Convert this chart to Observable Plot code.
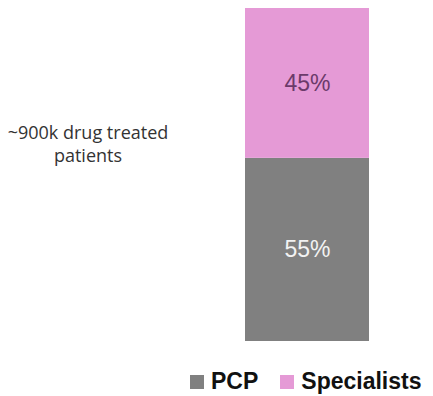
<!DOCTYPE html>
<html>
<head>
<meta charset="utf-8">
<script src="https://cdn.jsdelivr.net/npm/d3@7"></script>
<script src="https://cdn.jsdelivr.net/npm/@observablehq/plot@0.6"></script>
<style>
  html, body { margin: 0; padding: 0; background: #fff; }
  #wrap { position: relative; width: 433px; height: 396px; overflow: hidden; }
  #label { position: absolute; left: 0; top: 121px; width: 176px; text-align: center;
    font-family: "Open Sans", sans-serif; font-size: 18px; line-height: 23px; color: #333; }
  #legend { position: absolute; left: 190px; top: 368px; display: flex; align-items: center;
    font-family: "Liberation Sans", Arial, sans-serif; font-weight: bold; font-size: 23px; color: #111; }
  .sw { width: 14px; height: 14px; display: inline-block; margin-right: 7px; }
  .item { display: flex; align-items: center; margin-right: 22px; }
</style>
</head>
<body>
<div id="wrap">
  <div id="chart"></div>
  <div id="label">~900k drug treated<br>patients</div>
  <div id="legend"></div>
</div>
<script>
const groups = ["~900k drug treated patients"];
const segments = ["PCP", "Specialists"];
const shares = [55, 45];
const colors = ["#808080", "#e59ad6"];
const labelColors = ["#f2f2f2", "#6b3a6a"];

const data = segments.map((s, i) => ({group: groups[0], segment: s, value: shares[i]}));

const chart = Plot.plot({
  width: 433,
  height: 355,
  marginTop: 8,
  marginBottom: 14,
  marginLeft: 245,
  marginRight: 64,
  x: {domain: groups, padding: 0, axis: null},
  y: {domain: [0, 100], axis: null},
  color: {domain: segments, range: colors},
  marks: [
    Plot.barY(data, Plot.stackY({x: "group", y: "value", fill: "segment", order: segments})),
    Plot.text(data, Plot.stackY({
      x: "group", y: "value", order: segments,
      text: d => d.value + "%",
      fill: d => labelColors[segments.indexOf(d.segment)],
      fontSize: 23,
      fontFamily: "Liberation Sans, Arial, sans-serif"
    }))
  ]
});
document.getElementById("chart").appendChild(chart);

const legend = document.getElementById("legend");
segments.forEach((s, i) => {
  const item = document.createElement("div");
  item.className = "item";
  const sw = document.createElement("span");
  sw.className = "sw";
  sw.style.background = colors[i];
  item.appendChild(sw);
  const t = document.createElement("span");
  t.textContent = s;
  item.appendChild(t);
  legend.appendChild(item);
});
</script>
</body>
</html>
